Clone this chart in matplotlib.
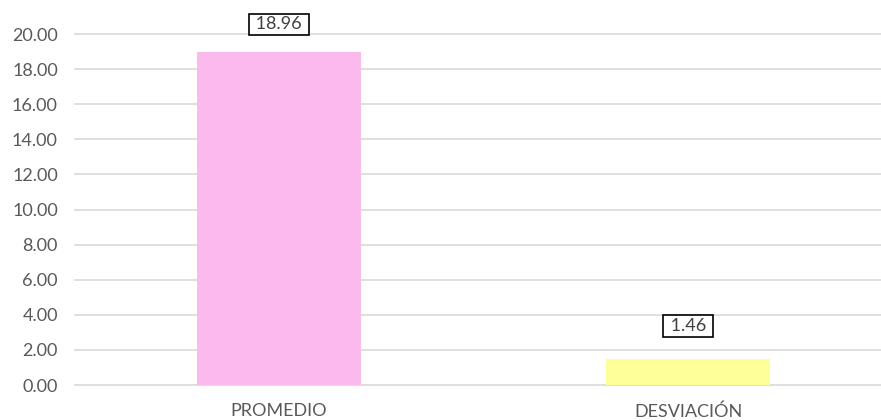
import matplotlib.pyplot as plt

categories = ["PROMEDIO", "DESVIACIÓN"]
values = [18.96, 1.46]
bar_colors = ["#FBB9EE", "#FFFF99"]
label_offsets = [20, 24]

plt.rcParams['font.family'] = ['Lato', 'DejaVu Sans']

fig = plt.figure(figsize=(8.81, 4.20), dpi=100)
ax = fig.add_axes([0.0846, 0.0833, 0.9285, 0.8357])

x = range(len(categories))
bars = ax.bar(x, values, width=0.4, color=bar_colors, zorder=2)

for b, v, off in zip(bars, values, label_offsets):
    ax.annotate(f" {v:.2f} ", (b.get_x() + b.get_width() / 2, v),
                xytext=(0, off), textcoords="offset points",
                ha="center", va="center", fontsize=13, color="#404040",
                bbox=dict(boxstyle="square,pad=0.15", fc="white", ec="black", lw=1.2),
                zorder=3, annotation_clip=False)

ax.set_xlim(-0.5, 1.5)
ax.set_ylim(0, 20)
ax.set_yticks(range(0, 21, 2))
ax.set_yticklabels([f"{t:.2f}" for t in range(0, 21, 2)])
ax.set_xticks(list(x))
ax.set_xticklabels(categories)
ax.tick_params(axis="both", length=0, labelsize=13, labelcolor="#595959")
ax.tick_params(axis="x", pad=13)
ax.tick_params(axis="y", pad=12)
ax.yaxis.grid(True, color="#D9D9D9", lw=1.2, zorder=0)
for gl in ax.get_ygridlines():
    gl.set_clip_on(False)
ax.set_axisbelow(True)
for s in ax.spines.values():
    s.set_visible(False)

fig.savefig("out.png", dpi=100)
